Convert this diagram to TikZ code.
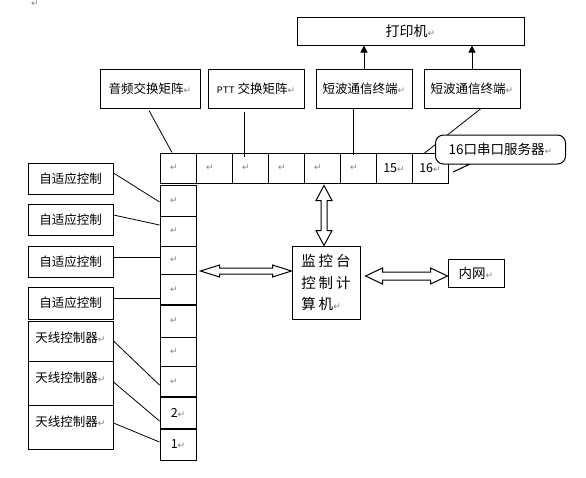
\documentclass[tikz,border=0pt]{standalone}
\usepackage{fontspec}
\setmainfont{Noto Sans CJK SC}
\newfontfamily\dvfont{DejaVu Sans}
\newfontfamily\monofnt{Liberation Mono}
\usetikzlibrary{calc,shapes.callouts,arrows.meta}
\newcommand\rmk{{\dvfont\fontsize{9}{9}\selectfont\color{gray}↵}}
\newcommand\hdarr[5]{%
  \draw[fill=white] (#1) -- ($(#1)+(#5,-#3)$) -- ($(#1)+(#5,-#4)$) -- ($(#2)+(-#5,-#4)$) -- ($(#2)+(-#5,-#3)$) -- (#2)
   -- ($(#2)+(-#5,#3)$) -- ($(#2)+(-#5,#4)$) -- ($(#1)+(#5,#4)$) -- ($(#1)+(#5,#3)$) -- cycle;}
\newcommand\vdarr[5]{%
  \draw[fill=white] (#1) -- ($(#1)+(-#3,#5)$) -- ($(#1)+(-#4,#5)$) -- ($(#2)+(-#4,-#5)$) -- ($(#2)+(-#3,-#5)$) -- (#2)
   -- ($(#2)+(#3,-#5)$) -- ($(#2)+(#4,-#5)$) -- ($(#1)+(#4,#5)$) -- ($(#1)+(#3,#5)$) -- cycle;}
\begin{document}
\begin{tikzpicture}[x=1pt,y=-1pt,line width=1pt,
  box/.style={draw,inner sep=0pt,font=\fontsize{12.5}{14}\selectfont},
  cell/.style={draw,inner sep=0pt,minimum width=36pt,font=\fontsize{12.5}{14}\selectfont},
  lbox/.style={box,minimum width=85pt},
  conn/.style={line width=0.8pt},
  ant/.style={lbox,label={[anchor=center,yshift=-17pt,font=\fontsize{12.5}{14}\selectfont]north:天线控制器\rmk}},
  ]
\useasboundingbox[fill=white] (0,0) rectangle (586,477);
\node (mark0) at (35,4) {\rmk};
% top row
\node[box,minimum width=227pt,minimum height=28pt,font=\fontsize{14}{16}\selectfont] (printer) at (410.5,31) {打印机\rmk};
\node[box,minimum width=100pt,minimum height=39pt] (audio) at (150,88.5) {音频交换矩阵\rmk};
\node[box,minimum width=96pt,minimum height=39pt] (ptt) at (256,88.5) {{\monofnt\fontsize{10}{10}\selectfont PTT} 交换矩阵\rmk};
\node[box,minimum width=96pt,minimum height=39pt] (sw1) at (364,88.5) {短波通信终端\rmk};
\node[box,minimum width=96pt,minimum height=39pt] (sw2) at (472,88.5) {短波通信终端\rmk};
\draw[-{Triangle[length=7pt,width=7pt]}] (sw1.north) -- (sw1.north |- printer.south);
\draw[-{Triangle[length=7pt,width=7pt]}] (sw2.north) -- (sw2.north |- printer.south);
% serial server cells
\foreach \i in {1,...,6}
  \node[cell,minimum height=30pt] (c\i) at ({142+36*\i},168) {\rmk\hspace*{8pt}};
\node[cell,minimum height=30pt] (c7) at (394,168) {15\rmk};
\node[cell,minimum height=30pt] (c8) at (430,168) {16\rmk};
% column cells
\node[cell,minimum height=31pt] (v1) at (178,200.5) {\rmk\hspace*{8pt}};
\node[cell,minimum height=30pt] (v2) at (178,231) {\rmk\hspace*{8pt}};
\node[cell,minimum height=28pt] (v3) at (178,260) {\rmk\hspace*{8pt}};
\node[cell,minimum height=31pt] (v4) at (178,289.5) {\rmk\hspace*{8pt}};
\node[cell,minimum height=32pt] (v5) at (178,321) {\rmk\hspace*{8pt}};
\node[cell,minimum height=29pt] (v6) at (178,351.5) {\rmk\hspace*{8pt}};
\node[cell,minimum height=31pt] (v7) at (178,381.5) {\rmk\hspace*{8pt}};
\node[cell,minimum height=32pt] (v8) at (178,413) {2\rmk};
\node[cell,minimum height=31pt] (v9) at (178,444.5) {1\rmk};
\draw[line width=1.8pt] (v5.north west) -- (v5.north east);
\draw[line width=1.8pt] (v8.north west) -- (v8.north east);
\draw[line width=1.8pt] (v9.north west) -- (v9.north east);
% left boxes
\node[lbox,minimum height=31pt] (aa1) at (70.5,178.5) {自适应控制};
\node[lbox,minimum height=31pt] (aa2) at (70.5,219.5) {自适应控制};
\node[lbox,minimum height=31pt] (aa3) at (70.5,261.5) {自适应控制};
\node[lbox,minimum height=32pt] (aa4) at (70.5,303) {自适应控制};
\node[ant,minimum height=40pt] (ant1) at (70.5,341) {};
\node[ant,minimum height=44pt] (ant2) at (70.5,383) {};
\node[ant,minimum height=44pt] (ant3) at (70.5,427) {};
% monitor & LAN
\node[box,minimum width=68pt,minimum height=73pt,align=left,font=\fontsize{14.5}{21.5}\selectfont] (mon) at (326,282.5)
  {监\hspace{3pt}控\hspace{3pt}台\\控\hspace{3pt}制\hspace{3pt}计\\算\hspace{3pt}机\rmk};
\node[box,minimum width=56pt,minimum height=28pt,font=\fontsize{13.5}{15}\selectfont] (lan) at (476,273) {内网\rmk};
% connectors top
\draw[conn] ($(audio.south)+(-1,2)$) -- ($(c1.north)+(-6,0)$);
\draw[conn] ($(ptt.south)+(-12,3)$) -- ($(c3.north)+(-6,4)$);
\draw[conn] ($(sw1.south)+(-11,0)$) -- ($(c6.north)+(-5,2)$);
\draw[conn] ($(sw2.south)+(9,0)$) -- ($(c8.north)+(-6,1)$);
% connectors left
\draw[conn] ($(aa1.east)+(0,-5.5)$) -- ($(v1.west)+(0,1.5)$);
\draw[conn] ($(aa2.east)+(0,-4.5)$) -- ($(v2.west)+(0,-6)$);
\draw[conn] ($(aa3.east)+(0,-4.5)$) -- ($(v3.west)+(0,-3)$);
\draw[conn] ($(aa4.east)+(0,-5)$) -- ($(v4.west)+(0,8.5)$);
\draw[conn] (ant1.east) -- ($(v7.west)+(0,3.5)$);
\draw[conn] ($(ant2.east)+(0,-1)$) -- ($(v8.west)+(0,8)$);
\draw[conn] ($(ant3.east)+(0,-4)$) -- ($(v9.west)+(0,-2.5)$);
% hollow double arrows
\coordinate (L1) at ($(v4.east)+(4,-18.5)$);
\coordinate (L2) at (mon.west |- L1);
\hdarr{L1}{L2}{6}{3}{19}
\coordinate (R1) at ($(mon.east)+(5,-6.5)$);
\coordinate (R2) at (lan.west |- R1);
\hdarr{R1}{R2}{8}{4}{17}
\coordinate (V1) at ($(c5.south)+(2,2)$);
\coordinate (V2) at (V1 |- mon.north);
\vdarr{V1}{V2}{8}{3}{15}
% callout
\node[draw,fill=white,rectangle callout,rounded corners=8pt,minimum width=130pt,minimum height=29pt,inner sep=0pt,
  callout absolute pointer={(449,174)},callout pointer width=0.3,font=\fontsize{13.5}{15}\selectfont] (srv) at (500.5,149.5) {16口串口服务器\rmk};
\end{tikzpicture}
\end{document}
